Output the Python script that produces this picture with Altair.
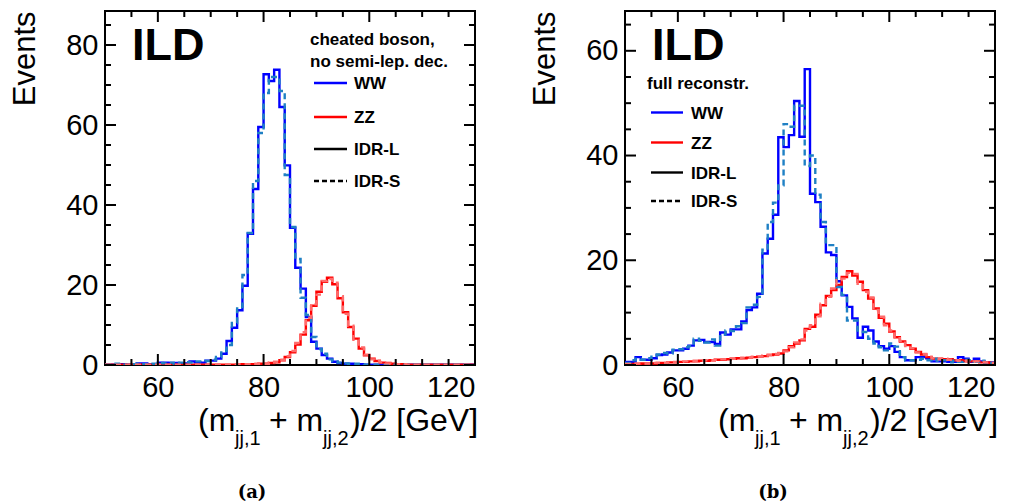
import altair as alt
import pandas as pd

# ---------------- data (bin low edges 50..119, 1 GeV bins) ----------------
edges = list(range(50, 120))

left_ww_idrl = [0.1, 0.1, 0.1, 0.2, 0.1, 0.1, 0.4, 0.4, 0.2, 0.2,
                0.6, 0.6, 0.5, 0.5, 0.4, 0.4, 0.9, 0.7, 0.6, 1.1,
                1.1, 1.6, 2.8, 6.0, 9.3, 13.7, 19.8, 32.8, 44.0, 59.5,
                72.7, 71.0, 73.8, 64.5, 49.9, 34.3, 24.3, 19.1, 12.0, 5.8,
                4.1, 2.5, 1.6, 0.8, 0.5, 0.3, 0.3, 0.2, 0.2, 0.1,
                0.1, 0.1, 0.1, 0.1, 0.1, 0.1, 0.1, 0.1, 0.1, 0.1,
                0.1, 0.1, 0.1, 0.1, 0.1, 0.1, 0.1, 0.1, 0.1, 0.1]
left_ww_idrs = [0.1, 0.1, 0.3, 0.1, 0.1, 0.2, 0.3, 0.2, 0.2, 0.3,
                0.5, 0.4, 0.6, 0.3, 0.6, 0.7, 0.6, 0.9, 0.9, 1.0,
                1.3, 2.0, 3.5, 5.0, 10.5, 14.5, 22.5, 33.0, 46.0, 58.0,
                68.0, 72.0, 72.0, 68.5, 47.5, 34.5, 26.5, 16.8, 12.5, 7.0,
                4.0, 2.8, 1.4, 0.9, 0.6, 0.4, 0.3, 0.3, 0.2, 0.1,
                0.1, 0.1, 0.1, 0.1, 0.1, 0.1, 0.1, 0.1, 0.1, 0.1,
                0.1, 0.1, 0.1, 0.1, 0.1, 0.1, 0.1, 0.1, 0.1, 0.1]
left_zz_idrl = [0.1, 0.1, 0.1, 0.1, 0.1, 0.1, 0.1, 0.1, 0.1, 0.1,
                0.1, 0.1, 0.1, 0.1, 0.1, 0.1, 0.1, 0.1, 0.1, 0.1,
                0.1, 0.1, 0.1, 0.1, 0.1, 0.2, 0.2, 0.2, 0.2, 0.3,
                0.3, 0.5, 0.7, 1.2, 2.0, 3.2, 5.1, 7.6, 11.2, 14.8,
                18.3, 20.8, 21.8, 20.2, 16.7, 13.2, 9.5, 6.6, 4.1, 2.4,
                1.6, 1.0, 0.6, 0.5, 0.3, 0.2, 0.2, 0.1, 0.1, 0.1,
                0.1, 0.1, 0.1, 0.1, 0.1, 0.1, 0.1, 0.1, 0.1, 0.1]
left_zz_idrs = [0.1, 0.1, 0.1, 0.1, 0.1, 0.1, 0.1, 0.1, 0.1, 0.1,
                0.1, 0.1, 0.1, 0.1, 0.1, 0.1, 0.1, 0.1, 0.1, 0.1,
                0.1, 0.1, 0.1, 0.1, 0.2, 0.2, 0.2, 0.2, 0.3, 0.3,
                0.3, 0.6, 0.8, 1.3, 2.2, 3.5, 5.5, 8.2, 11.8, 15.2,
                17.6, 21.0, 21.5, 20.6, 17.2, 12.8, 9.8, 6.3, 4.4, 2.6,
                1.4, 1.1, 0.7, 0.4, 0.3, 0.2, 0.2, 0.1, 0.1, 0.1,
                0.1, 0.1, 0.1, 0.1, 0.1, 0.1, 0.1, 0.1, 0.1, 0.1]

right_ww_idrl = [0.6, 0.6, 1.5, 1.0, 1.0, 1.3, 1.9, 2.0, 2.4, 2.8,
                 2.8, 3.1, 3.7, 4.7, 4.8, 4.4, 4.4, 4.0, 6.2, 5.8,
                 6.8, 6.8, 8.3, 10.5, 11.0, 13.6, 21.3, 24.1, 28.7, 43.5,
                 41.6, 43.9, 50.4, 43.6, 56.5, 32.7, 31.1, 26.4, 21.5, 21.0,
                 16.0, 13.3, 11.1, 8.9, 5.2, 7.3, 6.6, 4.5, 3.6, 3.1,
                 3.6, 2.5, 1.5, 0.9, 0.9, 1.5, 1.5, 1.3, 0.7, 0.7,
                 0.7, 0.6, 0.6, 1.5, 1.2, 0.6, 1.2, 0.7, 0.5, 0.5]
right_ww_idrs = [0.4, 0.9, 1.2, 1.0, 1.3, 1.6, 2.0, 2.3, 2.2, 2.9,
                 3.0, 3.4, 3.6, 5.0, 4.6, 4.3, 4.9, 3.7, 5.8, 6.6,
                 6.5, 7.4, 8.0, 11.0, 11.5, 13.0, 22.0, 27.3, 31.0, 34.3,
                 46.0, 45.5, 49.5, 49.5, 38.0, 40.0, 32.5, 27.3, 22.9, 22.9,
                 14.9, 13.4, 8.5, 8.5, 6.6, 6.3, 5.0, 4.1, 3.4, 2.8,
                 4.1, 3.5, 1.5, 0.9, 0.9, 1.0, 1.2, 0.9, 1.2, 0.8,
                 0.9, 0.5, 0.8, 0.6, 1.0, 0.9, 0.6, 0.8, 0.5, 0.4]
right_zz_idrl = [0.2, 0.2, 0.2, 0.3, 0.3, 0.3, 0.4, 0.4, 0.5, 0.5,
                 0.6, 0.6, 0.7, 0.7, 0.8, 0.8, 0.9, 1.0, 1.0, 1.1,
                 1.2, 1.3, 1.3, 1.4, 1.5, 1.6, 1.7, 1.9, 2.0, 2.2,
                 2.8, 3.6, 4.1, 4.7, 6.9, 7.3, 9.6, 11.4, 13.2, 14.3,
                 15.3, 16.8, 17.9, 17.1, 15.9, 14.3, 12.7, 10.8, 9.0, 7.9,
                 6.4, 5.3, 4.5, 3.8, 3.1, 2.5, 2.0, 1.5, 1.2, 1.2,
                 1.1, 1.1, 0.9, 0.9, 0.7, 0.7, 0.7, 0.5, 0.5, 0.4]
right_zz_idrs = [0.2, 0.2, 0.3, 0.3, 0.3, 0.4, 0.4, 0.4, 0.5, 0.6,
                 0.6, 0.7, 0.7, 0.8, 0.8, 0.9, 0.9, 1.0, 1.1, 1.1,
                 1.2, 1.2, 1.4, 1.4, 1.6, 1.6, 1.8, 1.9, 2.1, 2.3,
                 2.6, 3.4, 4.3, 4.9, 6.6, 7.6, 9.3, 11.7, 13.0, 14.6,
                 16.2, 16.5, 17.6, 17.4, 15.5, 14.0, 12.9, 10.5, 9.2, 7.6,
                 6.6, 5.1, 4.6, 3.6, 3.2, 2.4, 2.1, 1.6, 1.3, 1.1,
                 1.2, 1.0, 0.9, 0.8, 0.8, 0.6, 0.7, 0.6, 0.5, 0.4]

x_major = [60, 80, 100, 120]
x_minor = [55, 65, 70, 75, 85, 90, 95, 105, 110, 115]
left_y_labels = [0, 20, 40, 60, 80]
left_y_minor = [5, 10, 15, 25, 30, 35, 45, 50, 55, 65, 70, 75, 85]
right_y_labels = [0, 20, 40, 60]
right_y_minor = [5, 10, 15, 25, 30, 35, 45, 50, 55, 65]

series_keys = ["WW_L", "WW_S", "ZZ_L", "ZZ_S"]
series_colors = ["#0000ff", "#1f80c4", "#ff0000", "#ff6b6b"]

FONT = "Liberation Sans"
W, H = 370, 354


def hist_frame(curves):
    rows = []
    for key, vals in curves.items():
        ext = list(vals) + [vals[-1]]
        for i, v in enumerate(ext):
            rows.append({"key": key, "det": key[-1], "edge": 50 + i, "v": v})
    return pd.DataFrame(rows)


def panel(curves, ymax, ylabels, yminor, title_lines, legend_y, legend_dx):
    df = hist_frame(curves)
    xs = alt.Scale(domain=[50, 120], nice=False, zero=False)
    ys = alt.Scale(domain=[0, ymax], nice=False, zero=True)
    cs = alt.Scale(domain=series_keys, range=series_colors)

    xaxis = alt.Axis(values=x_major, title=None, grid=False, domain=False, ticks=False,
                     tickSize=0, labelFont=FONT, labelFontSize=29, labelColor="black",
                     labelBaseline="alphabetic", labelPadding=31, format="d")
    yaxis = alt.Axis(values=ylabels, title="Events", grid=False, domain=False, ticks=False,
                     tickSize=0, labelFont=FONT, labelFontSize=29, labelColor="black",
                     labelPadding=7, format="d",
                     titleFont=FONT, titleFontSize=31, titleFontWeight="normal",
                     titleColor="black", titleAngle=270, titleX=-71, titleY=0,
                     titleAlign="right", titleBaseline="alphabetic")

    def X(field="edge"):
        return alt.X(f"{field}:Q", scale=xs, axis=xaxis, title=None)

    def Y(field="v"):
        return alt.Y(f"{field}:Q", scale=ys, axis=yaxis, title="Events")

    base = alt.Chart(df).encode(
        x=X(), y=Y(),
        color=alt.Color("key:N", scale=cs, legend=None),
        detail="key:N",
    )
    solid = base.transform_filter(alt.datum.det == "L").mark_line(
        interpolate="step-after", strokeWidth=2.4, clip=True)
    dashed = base.transform_filter(alt.datum.det == "S").mark_line(
        interpolate="step-after", strokeWidth=2.4, strokeDash=[6, 4], clip=True)

    layers = [solid, dashed]

    # inward ROOT-style ticks on all four sides (same fields/axes so they merge)
    ymaj = pd.DataFrame({"v": ylabels})
    ymin = pd.DataFrame({"v": yminor})
    xmaj = pd.DataFrame({"edge": x_major})
    xmin = pd.DataFrame({"edge": x_minor})
    for d, ln in ((ymaj, 11), (ymin, 6)):
        layers.append(alt.Chart(d).mark_rule(color="black", strokeWidth=2).encode(
            y=Y(), x=alt.value(0), x2=alt.value(ln)))
        layers.append(alt.Chart(d).mark_rule(color="black", strokeWidth=2).encode(
            y=Y(), x=alt.value(W - ln), x2=alt.value(W)))
    for d, ln in ((xmaj, 11), (xmin, 6)):
        layers.append(alt.Chart(d).mark_rule(color="black", strokeWidth=2).encode(
            x=X(), y=alt.value(H - ln), y2=alt.value(H)))
        layers.append(alt.Chart(d).mark_rule(color="black", strokeWidth=2).encode(
            x=X(), y=alt.value(0), y2=alt.value(ln)))

    one = pd.DataFrame({"a": [0]})

    def txt(s, x, y, size, weight="bold", align="left", font=FONT):
        return alt.Chart(one).mark_text(text=s, font=font, fontSize=size, fontWeight=weight,
                                        align=align, baseline="alphabetic", color="black").encode(
            x=alt.value(x), y=alt.value(y))

    layers.append(txt("ILD", 27, 49, 45))
    for s, (tx, ty) in title_lines:
        layers.append(txt(s, tx, ty, 17))

    entries = [("WW", "#0000ff", None), ("ZZ", "#ff0000", None),
               ("IDR-L", "black", None), ("IDR-S", "black", [5, 3])]
    lx0, lx1, tx = legend_dx
    for (name, col, dash), ly in zip(entries, legend_y):
        kw = dict(color=col, strokeWidth=2.4)
        if dash:
            kw["strokeDash"] = dash
        layers.append(alt.Chart(one).mark_rule(**kw).encode(
            x=alt.value(lx0), x2=alt.value(lx1), y=alt.value(ly)))
        layers.append(txt(name, tx, ly + 6, 17))

    # x-axis title with subscripts
    layers.append(txt("(m", 93, 420, 32, "normal"))
    layers.append(txt("jj,1", 130, 434, 20, "normal"))
    layers.append(txt("+ m", 164, 420, 32, "normal"))
    layers.append(txt("jj,2", 218, 434, 20, "normal"))
    layers.append(txt(")/2 [GeV]", 245, 420, 32, "normal"))

    return layers


one_row = pd.DataFrame({"a": [0]})

left_layers = panel({"WW_L": left_ww_idrl, "WW_S": left_ww_idrs,
                     "ZZ_L": left_zz_idrl, "ZZ_S": left_zz_idrs},
                    88.5, left_y_labels, left_y_minor,
                    [("cheated boson,", (205, 34)), ("no semi-lep. dec.", (205, 56))],
                    [72, 106, 138, 170], (209, 242, 249))
left_layers.append(alt.Chart(one_row).mark_text(
    text="(a)", font="DejaVu Serif", fontSize=18, fontWeight="bold", align="center",
    baseline="alphabetic", color="black").encode(x=alt.value(147), y=alt.value(487)))
left = alt.layer(*left_layers).properties(width=W, height=H)

right_layers = panel({"WW_L": right_ww_idrl, "WW_S": right_ww_idrs,
                      "ZZ_L": right_zz_idrl, "ZZ_S": right_zz_idrs},
                     67.6, right_y_labels, right_y_minor,
                     [("full reconstr.", (22, 78))],
                     [101.5, 131.5, 161.5, 190], (26, 58, 66))
right_layers.append(alt.Chart(one_row).mark_text(
    text="(b)", font="DejaVu Serif", fontSize=18, fontWeight="bold", align="center",
    baseline="alphabetic", color="black").encode(x=alt.value(148), y=alt.value(487)))
right = alt.layer(*right_layers).properties(width=W, height=H)

chart = alt.hconcat(left, right, spacing=48).properties(
    padding={"left": 0, "top": 1, "right": 0, "bottom": 0}
).configure_view(stroke="black", strokeWidth=2).configure_concat(spacing=48)

chart.save("out.html", embed_options={"renderer": "svg", "actions": False})
